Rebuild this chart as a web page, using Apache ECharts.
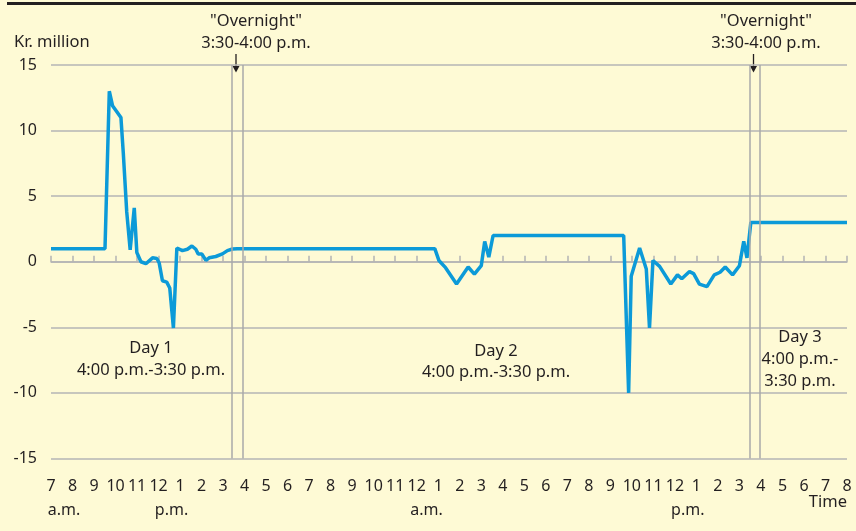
<!DOCTYPE html>
<html lang="en">
<head>
    <meta charset="UTF-8">
    <title>Overnight liquidity</title>
    <script src="https://cdn.jsdelivr.net/npm/echarts@6.0.0/dist/echarts.min.js"></script>
    <style>
        html, body { margin: 0; padding: 0; background: #fefad5; }
        #chart { width: 856px; height: 531px; }
    </style>
</head>
<body>
    <div id="chart"></div>
    <script>
        // hours counted from midnight of day 1 (24 = midnight, 36 = noon day 2)
        const hours = [
            7, 9.51, 9.71, 9.86, 10.25, 10.36, 10.52, 10.68, 10.87, 10.99,
            11.18, 11.41, 11.72, 11.92, 12.03, 12.18, 12.38, 12.52, 12.69, 12.85,
            13.11, 13.34, 13.55, 13.73, 13.84, 14.01, 14.2, 14.35, 14.66, 14.97,
            15.2, 15.43, 15.66,
            24.84, 25.03, 25.34, 25.85, 26.39, 26.68, 27.0, 27.16, 27.35, 27.55,
            33.62, 33.85, 33.97, 34.36, 34.67, 34.82, 34.98, 35.29, 35.81, 36.12,
            36.32, 36.68, 36.87, 37.14, 37.49, 37.83, 38.1, 38.34, 38.68, 39.0,
            39.2, 39.35, 39.53, 44
        ];
        const flows = [
            1, 1, 13, 11.9, 11, 8.3, 3.8, 0.9, 4.1, 0.7,
            0.0, -0.15, 0.3, 0.25, -0.1, -1.45, -1.55, -2.0, -5.05, 1.05,
            0.85, 0.95, 1.2, 0.95, 0.6, 0.6, 0.1, 0.3, 0.4, 0.6,
            0.85, 0.97, 1,
            1, 0.1, -0.45, -1.7, -0.4, -0.95, -0.3, 1.55, 0.35, 2,
            2, -10, -1.1, 1.05, -0.55, -5.05, 0.1, -0.35, -1.7, -1.0,
            -1.3, -0.75, -0.9, -1.7, -1.9, -1.0, -0.8, -0.4, -1.0, -0.3,
            1.55, 0.3, 3, 3
        ];
        const hourLabels = ['7', '8', '9', '10', '11', '12', '1', '2', '3', '4', '5', '6',
            '7', '8', '9', '10', '11', '12', '1', '2', '3', '4', '5', '6',
            '7', '8', '9', '10', '11', '12', '1', '2', '3', '4', '5', '6', '7', '8'];
        const ampmAt = [7.6, 12.6, 24.45, 36.6];
        const ampmText = ['a.m.', 'p.m.', 'a.m.', 'p.m.'];
        const overnightLines = [15.4, 15.92, 39.5, 39.95];

        const font = 'Noto Sans';
        const ink = '#231f20';
        const gridGray = '#b4b4b4';
        const noteFont = `16.5px "${font}"`;

        const chart = echarts.init(document.getElementById('chart'));

        const option = {
            backgroundColor: '#fefad5',
            animation: false,
            grid: { left: 51, right: 9, top: 65, bottom: 72.5 },
            xAxis: [
                {
                    type: 'value',
                    min: 7,
                    max: 44,
                    interval: 1,
                    axisLine: { show: true, lineStyle: { color: gridGray, width: 1.5 } },
                    axisTick: { show: true, inside: true, length: 6, lineStyle: { color: gridGray, width: 1.5 } },
                    splitLine: { show: false },
                    axisLabel: {
                        margin: 20,
                        color: ink,
                        fontFamily: font,
                        fontSize: 16,
                        formatter: v => hourLabels[Math.round(v - 7)]
                    }
                },
                {
                    type: 'value',
                    min: 7,
                    max: 44,
                    position: 'bottom',
                    axisLine: { show: false },
                    axisTick: { show: false },
                    splitLine: { show: false },
                    axisLabel: {
                        customValues: ampmAt,
                        margin: 44,
                        color: ink,
                        fontFamily: font,
                        fontSize: 16,
                        formatter: v => ampmText[ampmAt.indexOf(v)]
                    }
                }
            ],
            yAxis: {
                type: 'value',
                min: -15,
                max: 15,
                interval: 5,
                axisLine: { show: false },
                axisTick: { show: false },
                splitLine: { show: true, lineStyle: { color: gridGray, width: 1.5 } },
                axisLabel: { margin: 14, color: ink, fontFamily: font, fontSize: 16 }
            },
            series: [
                {
                    type: 'line',
                    data: hours.map((h, i) => [h, flows[i]]),
                    showSymbol: false,
                    lineStyle: { color: '#0c9ad8', width: 3.5 },
                    markLine: {
                        silent: true,
                        symbol: 'none',
                        label: { show: false },
                        lineStyle: { color: '#a9a9a9', width: 1.5, type: 'solid' },
                        data: overnightLines.map(x => ({ xAxis: x }))
                    }
                }
            ],
            graphic: [
                { type: 'rect', left: 7, top: 2, shape: { width: 849, height: 3 }, style: { fill: ink } },
                { type: 'text', left: 14, top: 34, style: { text: 'Kr. million', font: noteFont, fill: ink } },
                { type: 'text', x: 256, y: 10, style: { text: '"Overnight"\n3:30-4:00 p.m.', font: noteFont, fill: ink, align: 'center', lineHeight: 22 } },
                { type: 'text', x: 766, y: 10, style: { text: '"Overnight"\n3:30-4:00 p.m.', font: noteFont, fill: ink, align: 'center', lineHeight: 22 } },
                { type: 'line', shape: { x1: 236, y1: 54, x2: 236, y2: 68 }, style: { stroke: ink, lineWidth: 1.3 } },
                { type: 'polygon', shape: { points: [[232.5, 66], [239.5, 66], [236, 72.5]] }, style: { fill: ink } },
                { type: 'line', shape: { x1: 753.5, y1: 54, x2: 753.5, y2: 68 }, style: { stroke: ink, lineWidth: 1.3 } },
                { type: 'polygon', shape: { points: [[750, 66], [757, 66], [753.5, 72.5]] }, style: { fill: ink } },
                { type: 'text', x: 151, y: 337, style: { text: 'Day 1\n4:00 p.m.-3:30 p.m.', font: noteFont, fill: ink, align: 'center', lineHeight: 22 } },
                { type: 'text', x: 496, y: 341, style: { text: 'Day 2\n4:00 p.m.-3:30 p.m.', font: noteFont, fill: ink, align: 'center', lineHeight: 21 } },
                { type: 'text', x: 800, y: 326, style: { text: 'Day 3\n4:00 p.m.-\n3:30 p.m.', font: noteFont, fill: ink, align: 'center', lineHeight: 22 } },
                { type: 'text', right: 9, top: 494, style: { text: 'Time', font: noteFont, fill: ink } }
            ]
        };

        chart.setOption(option);
    </script>
</body>
</html>
